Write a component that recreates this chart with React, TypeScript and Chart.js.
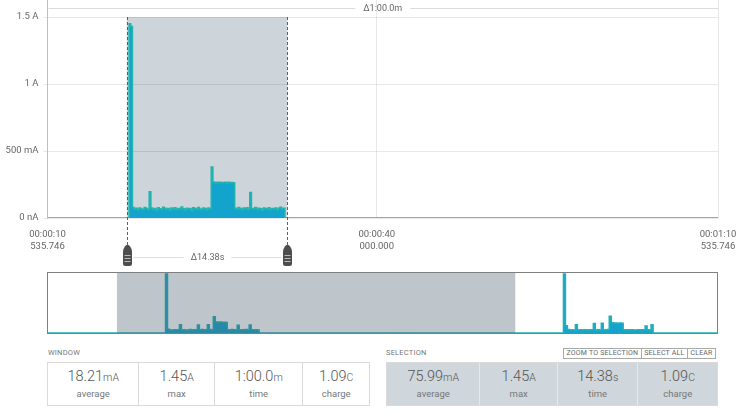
import React, { useEffect, useRef } from "react";
import { Chart, registerables } from "chart.js";

Chart.register(...registerables);

const FONT = "Roboto, 'Noto Sans', sans-serif";

// ---------- main window chart (seconds from 00:00:10.535746) ----------
const WINDOW_RANGE = [0, 60];
const X_TICK_SECONDS = [0, 29.464254, 60];
const X_TICK_TIME = ["00:00:10", "00:00:40", "00:01:10"];
const X_TICK_SUB = ["535.746", "000.000", "535.746"];
const Y_MAX_AMPS = 1.627;
const Y_TICK_AMPS = [0, 0.5, 1, 1.5];
const Y_TICK_LABELS = ["0 nA", "500 mA", "1 A", "1.5 A"];
const SELECTION_RANGE = [7.09, 21.46];
const SELECTION_DELTA = "Δ14.38s";
const WINDOW_DELTA = "Δ1:00.0m";

const BURST_START_S = 7.15;
const BURST_STEP_S = 0.15;
const burstMilliAmps = [
  0, 1450, 1430, 78, 66, 72, 60, 75, 68, 64,
  79, 70, 62, 195, 74, 66, 71, 58, 76, 69,
  63, 80, 72, 65, 70, 57, 74, 68, 77, 61,
  70, 66, 82, 69, 60, 73, 67, 71, 55, 76,
  70, 64, 78, 68, 62, 74, 71, 59, 75, 69,
  380, 268, 262, 266, 264, 267, 263, 265, 266, 262,
  267, 264, 265, 263, 72, 66, 78, 70, 61, 74,
  68, 76, 63, 190, 71, 67, 79, 64, 72, 69,
  58, 75, 70, 66, 77, 62, 71, 68, 74, 60,
  73, 80, 67, 72, 0,
];

// ---------- overview chart (absolute seconds) ----------
const OVERVIEW_RANGE = [0, 101.07];
const OVERVIEW_WINDOW = [10.535746, 70.535746];
const OVERVIEW_Y_MAX = 1.5;
const OVERVIEW_STEP_S = 0.3;
const OVERVIEW_BURST1_START_S = 17.55;
const overviewBurst1MilliAmps = [
  0, 1450, 95, 75, 70, 80, 72, 78, 205, 74,
  82, 70, 76, 85, 72, 78, 80, 195, 74, 83,
  76, 79, 205, 84, 75, 400, 270, 265, 268, 262,
  266, 260, 80, 76, 85, 78, 82, 190, 74, 80,
  77, 83, 76, 195, 81, 74, 79, 72, 0,
];
const OVERVIEW_BURST2_START_S = 77.49;
const overviewBurst2MilliAmps = [
  0, 1450, 180, 85, 72, 78, 70, 200, 76, 80,
  73, 77, 71, 82, 75, 79, 235, 74, 81, 76,
  240, 78, 73, 84, 410, 250, 245, 248, 242, 246,
  240, 80, 75, 78, 72, 81, 76, 74, 79, 73,
  77, 80, 170, 78, 74, 200, 0,
];

// ---------- stats ----------
const STAT_LABELS = ["average", "max", "time", "charge"];
const windowValues = ["18.21", "1.45", "1:00.0", "1.09"];
const windowUnits = ["mA", "A", "m", "C"];
const selectionValues = ["75.99", "1.45", "14.38", "1.09"];
const selectionUnits = ["mA", "A", "s", "C"];
const SELECTION_BUTTONS = ["ZOOM TO SELECTION", "SELECT ALL", "CLEAR"];

function samplePoints(start: number, step: number, values: number[]) {
  return values.map((v, i) => ({ x: start + i * step, y: v / 1000 }));
}

function drawHandle(ctx: CanvasRenderingContext2D, cx: number, top: number) {
  ctx.save();
  ctx.beginPath();
  ctx.moveTo(cx - 1.2, top);
  ctx.lineTo(cx + 1.2, top);
  ctx.quadraticCurveTo(cx + 4.5, top + 3, cx + 4.5, top + 7);
  ctx.lineTo(cx + 4.5, top + 18.5);
  ctx.quadraticCurveTo(cx + 4.5, top + 21, cx + 2, top + 21);
  ctx.lineTo(cx - 2, top + 21);
  ctx.quadraticCurveTo(cx - 4.5, top + 21, cx - 4.5, top + 18.5);
  ctx.lineTo(cx - 4.5, top + 7);
  ctx.quadraticCurveTo(cx - 4.5, top + 3, cx - 1.2, top);
  ctx.closePath();
  ctx.fillStyle = "#4b4e50";
  ctx.fill();
  ctx.strokeStyle = "#b9bcbe";
  ctx.lineWidth = 1;
  for (const dy of [10.5, 13.5, 16.5]) {
    ctx.beginPath();
    ctx.moveTo(cx - 3, top + dy);
    ctx.lineTo(cx + 3, top + dy);
    ctx.stroke();
  }
  ctx.restore();
}

const mainOverlay = {
  id: "mainOverlay",
  beforeDraw(chart: any) {
    const { ctx, chartArea, scales } = chart;
    const x1 = scales.x.getPixelForValue(SELECTION_RANGE[0]);
    const x2 = scales.x.getPixelForValue(SELECTION_RANGE[1]);
    const yTop = scales.y.getPixelForValue(Y_TICK_AMPS[Y_TICK_AMPS.length - 1]);
    ctx.save();
    ctx.fillStyle = "#cdd4da";
    ctx.fillRect(x1, yTop, x2 - x1, chartArea.bottom - yTop);
    ctx.restore();
  },
  afterDatasetsDraw(chart: any) {
    const { ctx, chartArea, scales } = chart;
    const x1 = Math.round(scales.x.getPixelForValue(SELECTION_RANGE[0])) + 0.5;
    const x2 = Math.round(scales.x.getPixelForValue(SELECTION_RANGE[1])) + 0.5;
    const yTop = scales.y.getPixelForValue(Y_TICK_AMPS[Y_TICK_AMPS.length - 1]);
    const handleTop = 245;
    ctx.save();
    // dashed selection edges
    ctx.strokeStyle = "#5c5f61";
    ctx.lineWidth = 1;
    ctx.setLineDash([3, 2]);
    for (const x of [x1, x2]) {
      ctx.beginPath();
      ctx.moveTo(x, yTop);
      ctx.lineTo(x, handleTop + 1);
      ctx.stroke();
    }
    ctx.setLineDash([]);
    // selection delta
    ctx.font = `9px ${FONT}`;
    ctx.textAlign = "center";
    ctx.textBaseline = "middle";
    const dy = 257.5;
    const cx = (x1 + x2) / 2;
    const tw = ctx.measureText(SELECTION_DELTA).width;
    ctx.strokeStyle = "#dedede";
    ctx.beginPath();
    ctx.moveTo(x1 + 6, dy);
    ctx.lineTo(cx - tw / 2 - 7, dy);
    ctx.moveTo(cx + tw / 2 + 7, dy);
    ctx.lineTo(x2 - 6, dy);
    ctx.stroke();
    ctx.fillStyle = "#666";
    ctx.fillText(SELECTION_DELTA, cx, dy);
    drawHandle(ctx, x1, handleTop);
    drawHandle(ctx, x2, handleTop);
    // window delta ruler
    const ry = 8.5;
    const rcx = (chartArea.left + chartArea.right) / 2;
    const rw = ctx.measureText(WINDOW_DELTA).width;
    ctx.strokeStyle = "#dcdcdc";
    ctx.beginPath();
    ctx.moveTo(chartArea.left + 1, ry);
    ctx.lineTo(rcx - rw / 2 - 8, ry);
    ctx.moveTo(rcx + rw / 2 + 8, ry);
    ctx.lineTo(chartArea.right, ry);
    ctx.stroke();
    ctx.fillStyle = "#666";
    ctx.fillText(WINDOW_DELTA, rcx, ry);
    ctx.restore();
  },
};

const overviewOverlay = {
  id: "overviewOverlay",
  beforeDatasetsDraw(chart: any) {
    const { ctx, chartArea } = chart;
    ctx.save();
    ctx.strokeStyle = "#7d7f81";
    ctx.lineWidth = 1;
    ctx.strokeRect(
      Math.round(chartArea.left) + 0.5,
      Math.round(chartArea.top) + 0.5,
      Math.round(chartArea.right - chartArea.left) - 1,
      Math.round(chartArea.bottom - chartArea.top)
    );
    ctx.restore();
  },
  afterDatasetsDraw(chart: any) {
    const { ctx, chartArea, scales } = chart;
    const x1 = scales.x.getPixelForValue(OVERVIEW_WINDOW[0]);
    const x2 = scales.x.getPixelForValue(OVERVIEW_WINDOW[1]);
    ctx.save();
    ctx.fillStyle = "rgba(69, 89, 106, 0.35)";
    ctx.fillRect(x1, chartArea.top + 1, x2 - x1, chartArea.bottom - chartArea.top - 1);
    ctx.restore();
  },
};

function StatBox(props: {
  left: number;
  width: number;
  cellWidths: number[];
  values: string[];
  units: string[];
  background: string;
  divider: string;
}) {
  const { left, width, cellWidths, values, units, background, divider } = props;
  return (
    <div
      style={{
        position: "absolute",
        left,
        top: 362,
        width,
        height: 44,
        boxSizing: "border-box",
        border: "1px solid #dadada",
        background,
        display: "flex",
      }}
    >
      {values.map((v, i) => (
        <div
          key={i}
          style={{
            position: "relative",
            width: cellWidths[i],
            boxSizing: "border-box",
            borderLeft: i ? `1px solid ${divider}` : "none",
          }}
        >
          <div
            style={{
              position: "absolute",
              left: 0,
              right: 0,
              top: 5,
              textAlign: "center",
              lineHeight: "18px",
              fontSize: 14.5,
              fontWeight: 300,
              color: "#555",
              whiteSpace: "nowrap",
            }}
          >
            {v}
            <span style={{ fontSize: 10.5 }}>{units[i]}</span>
          </div>
          <div
            style={{
              position: "absolute",
              left: 0,
              right: 0,
              top: 25,
              textAlign: "center",
              lineHeight: "12px",
              fontSize: 9.5,
              color: "#777",
            }}
          >
            {STAT_LABELS[i]}
          </div>
        </div>
      ))}
    </div>
  );
}

export default function App() {
  const mainRef = useRef<HTMLCanvasElement>(null);
  const overviewRef = useRef<HTMLCanvasElement>(null);

  useEffect(() => {
    Chart.defaults.font.family = FONT;
    const mainPoints = [
      { x: WINDOW_RANGE[0], y: 0 },
      ...samplePoints(BURST_START_S, BURST_STEP_S, burstMilliAmps),
      { x: WINDOW_RANGE[1], y: 0 },
    ];
    const main = new Chart(mainRef.current as HTMLCanvasElement, {
      type: "line",
      data: {
        datasets: [
          {
            data: mainPoints,
            borderColor: "#22b5b0",
            backgroundColor: "#12a4cc",
            borderWidth: 1.5,
            fill: "origin",
            stepped: "before",
            pointRadius: 0,
          } as any,
        ],
      },
      options: {
        responsive: false,
        animation: false,
        devicePixelRatio: 1,
        events: [],
        layout: { padding: { left: 0, right: 22, top: 0, bottom: 0 } },
        plugins: { legend: { display: false }, tooltip: { enabled: false } },
        scales: {
          x: {
            type: "linear",
            min: WINDOW_RANGE[0],
            max: WINDOW_RANGE[1],
            afterBuildTicks: (s: any) => {
              s.ticks = X_TICK_SECONDS.map((v) => ({ value: v }));
            },
            afterFit: (s: any) => {
              s.height = 52;
              s.paddingLeft = 0;
              s.paddingRight = 0;
            },
            ticks: {
              autoSkip: false,
              maxRotation: 0,
              padding: 10,
              color: "#666",
              font: { family: FONT, size: 9.5, lineHeight: 1.3 },
              callback: (_v: any, i: number) => [X_TICK_TIME[i], X_TICK_SUB[i]],
            },
            grid: { color: "rgba(0,0,0,0.09)", drawTicks: false },
            border: { display: false },
          },
          y: {
            type: "linear",
            min: 0,
            max: Y_MAX_AMPS,
            afterBuildTicks: (s: any) => {
              s.ticks = Y_TICK_AMPS.map((v) => ({ value: v }));
            },
            afterFit: (s: any) => {
              s.width = 47.5;
              s.paddingTop = 0;
              s.paddingBottom = 0;
            },
            ticks: {
              padding: 5,
              color: "#666",
              font: { family: FONT, size: 9.5 },
              callback: (_v: any, i: number) => Y_TICK_LABELS[i],
            },
            grid: { color: "rgba(0,0,0,0.09)", tickLength: 4 },
            border: { color: "rgba(0,0,0,0.18)" },
          },
        },
      } as any,
      plugins: [mainOverlay],
    });

    const overviewPoints = [
      { x: OVERVIEW_RANGE[0], y: 0 },
      ...samplePoints(OVERVIEW_BURST1_START_S, OVERVIEW_STEP_S, overviewBurst1MilliAmps),
      ...samplePoints(OVERVIEW_BURST2_START_S, OVERVIEW_STEP_S, overviewBurst2MilliAmps),
      { x: OVERVIEW_RANGE[1], y: 0 },
    ];
    const overview = new Chart(overviewRef.current as HTMLCanvasElement, {
      type: "line",
      data: {
        datasets: [
          {
            data: overviewPoints,
            borderColor: "#22b0b8",
            backgroundColor: "#16a3cb",
            borderWidth: 1.5,
            fill: "origin",
            stepped: "before",
            pointRadius: 0,
          } as any,
        ],
      },
      options: {
        responsive: false,
        animation: false,
        devicePixelRatio: 1,
        events: [],
        layout: { padding: { left: 47, right: 22, top: 6, bottom: 5 } },
        plugins: { legend: { display: false }, tooltip: { enabled: false } },
        scales: {
          x: { type: "linear", min: OVERVIEW_RANGE[0], max: OVERVIEW_RANGE[1], display: false },
          y: { type: "linear", min: 0, max: OVERVIEW_Y_MAX, display: false },
        },
      } as any,
      plugins: [overviewOverlay],
    });

    return () => {
      main.destroy();
      overview.destroy();
    };
  }, []);

  const smallLabel: React.CSSProperties = {
    position: "absolute",
    top: 348,
    fontSize: 7.5,
    lineHeight: "10px",
    color: "#777",
    letterSpacing: 0.2,
  };

  return (
    <div
      style={{
        position: "absolute",
        left: 0,
        top: 0,
        width: 740,
        height: 418,
        background: "#fff",
        fontFamily: FONT,
        overflow: "hidden",
      }}
    >
      <canvas
        ref={mainRef}
        width={740}
        height={270}
        style={{ position: "absolute", left: 0, top: 0, width: 740, height: 270 }}
      />
      <canvas
        ref={overviewRef}
        width={740}
        height={72}
        style={{ position: "absolute", left: 0, top: 266, width: 740, height: 72 }}
      />
      <div style={{ ...smallLabel, left: 48 }}>WINDOW</div>
      <div style={{ ...smallLabel, left: 386 }}>SELECTION</div>
      <div
        style={{
          position: "absolute",
          left: 563,
          top: 348,
          height: 11,
          display: "flex",
          border: "1px solid #a9a9a9",
          boxSizing: "border-box",
        }}
      >
        {SELECTION_BUTTONS.map((b, i) => (
          <div
            key={b}
            style={{
              fontSize: 7,
              lineHeight: "9px",
              color: "#666",
              padding: "0 2.5px",
              borderLeft: i ? "1px solid #a9a9a9" : "none",
              whiteSpace: "nowrap",
              letterSpacing: 0.2,
            }}
          >
            {b}
          </div>
        ))}
      </div>
      <StatBox
        left={47}
        width={323}
        cellWidths={[91, 76, 89, 67]}
        values={windowValues}
        units={windowUnits}
        background="#fff"
        divider="#dadada"
      />
      <StatBox
        left={386}
        width={332}
        cellWidths={[93, 78, 81, 80]}
        values={selectionValues}
        units={selectionUnits}
        background="#cfd6dc"
        divider="#e6e9ec"
      />
    </div>
  );
}
